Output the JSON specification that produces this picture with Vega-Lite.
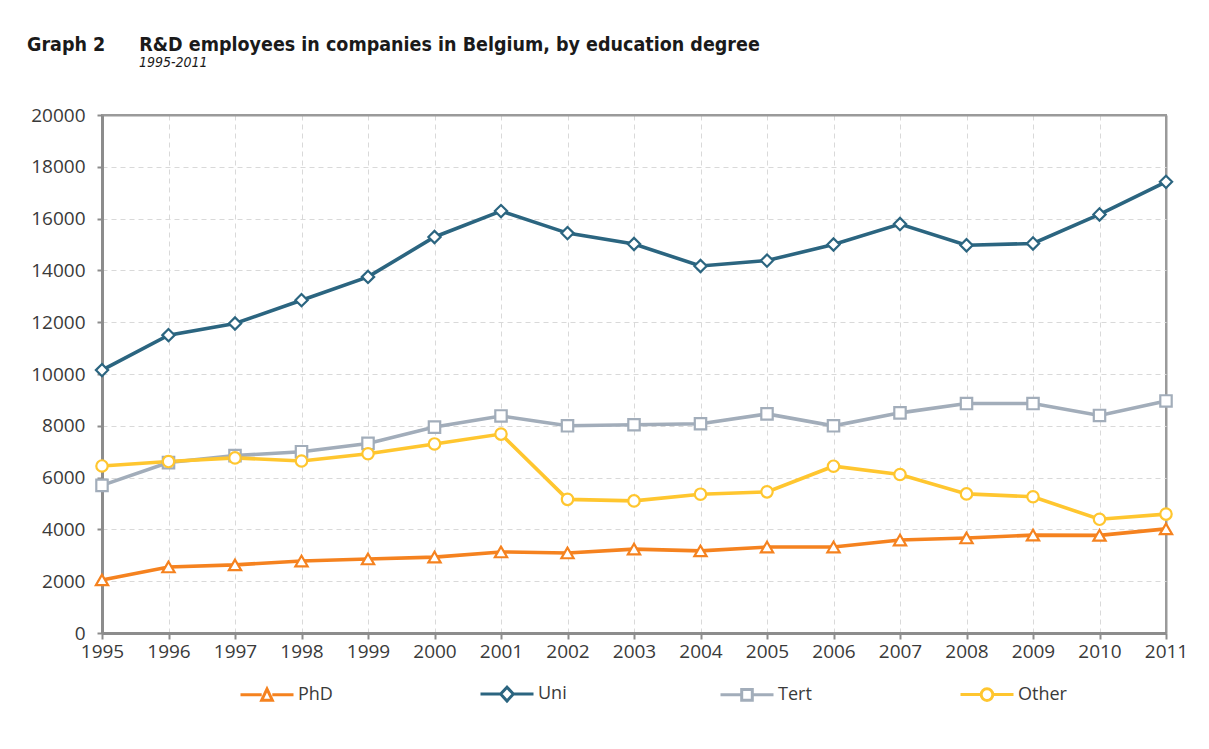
{
  "$schema": "https://vega.github.io/schema/vega-lite/v6.json",
  "width": 1064,
  "height": 518,
  "autosize": {"type": "none"},
  "padding": {"left": 102, "top": 115, "right": 43, "bottom": 116},
  "background": "white",
  "title": {
    "text": "Graph 2\u00a0\u00a0\u00a0\u00a0\u00a0\u2009R&D employees in companies in Belgium, by education degree",
    "subtitle": "\u200b\u00a0\u00a0\u00a0\u00a0\u00a0\u00a0\u00a0\u00a0\u00a0\u00a0\u00a0\u00a0\u00a0\u00a0\u00a0\u00a0\u00a0\u00a0\u00a0\u00a0\u00a0\u00a0\u00a0\u00a0\u00a0\u00a0\u00a0\u00a01995-2011",
    "anchor": "start",
    "frame": "group",
    "dx": -75,
    "offset": 35,
    "font": "DejaVu Sans Condensed",
    "fontSize": 19.5,
    "fontWeight": "bold",
    "color": "#1a1a1a",
    "subtitleFont": "DejaVu Sans Condensed",
    "subtitleFontSize": 14,
    "subtitleFontStyle": "italic",
    "subtitleColor": "#1a1a1a",
    "subtitlePadding": 1
  },
  "data": {
    "values": [
      {"year": 1995, "series": "PhD", "value": 2050},
      {"year": 1996, "series": "PhD", "value": 2550},
      {"year": 1997, "series": "PhD", "value": 2630},
      {"year": 1998, "series": "PhD", "value": 2780},
      {"year": 1999, "series": "PhD", "value": 2860},
      {"year": 2000, "series": "PhD", "value": 2930},
      {"year": 2001, "series": "PhD", "value": 3130},
      {"year": 2002, "series": "PhD", "value": 3090},
      {"year": 2003, "series": "PhD", "value": 3240},
      {"year": 2004, "series": "PhD", "value": 3170},
      {"year": 2005, "series": "PhD", "value": 3320},
      {"year": 2006, "series": "PhD", "value": 3320},
      {"year": 2007, "series": "PhD", "value": 3590},
      {"year": 2008, "series": "PhD", "value": 3670},
      {"year": 2009, "series": "PhD", "value": 3780},
      {"year": 2010, "series": "PhD", "value": 3770},
      {"year": 2011, "series": "PhD", "value": 4020},
      {"year": 1995, "series": "Uni", "value": 10150},
      {"year": 1996, "series": "Uni", "value": 11500},
      {"year": 1997, "series": "Uni", "value": 11950},
      {"year": 1998, "series": "Uni", "value": 12850},
      {"year": 1999, "series": "Uni", "value": 13750},
      {"year": 2000, "series": "Uni", "value": 15290},
      {"year": 2001, "series": "Uni", "value": 16290},
      {"year": 2002, "series": "Uni", "value": 15440},
      {"year": 2003, "series": "Uni", "value": 15020},
      {"year": 2004, "series": "Uni", "value": 14170},
      {"year": 2005, "series": "Uni", "value": 14380},
      {"year": 2006, "series": "Uni", "value": 15000},
      {"year": 2007, "series": "Uni", "value": 15790},
      {"year": 2008, "series": "Uni", "value": 14970},
      {"year": 2009, "series": "Uni", "value": 15040},
      {"year": 2010, "series": "Uni", "value": 16160},
      {"year": 2011, "series": "Uni", "value": 17420},
      {"year": 1995, "series": "Tert", "value": 5700},
      {"year": 1996, "series": "Tert", "value": 6580},
      {"year": 1997, "series": "Tert", "value": 6850},
      {"year": 1998, "series": "Tert", "value": 7000},
      {"year": 1999, "series": "Tert", "value": 7320},
      {"year": 2000, "series": "Tert", "value": 7950},
      {"year": 2001, "series": "Tert", "value": 8380},
      {"year": 2002, "series": "Tert", "value": 8000},
      {"year": 2003, "series": "Tert", "value": 8040},
      {"year": 2004, "series": "Tert", "value": 8080},
      {"year": 2005, "series": "Tert", "value": 8460},
      {"year": 2006, "series": "Tert", "value": 8000},
      {"year": 2007, "series": "Tert", "value": 8500},
      {"year": 2008, "series": "Tert", "value": 8860},
      {"year": 2009, "series": "Tert", "value": 8860},
      {"year": 2010, "series": "Tert", "value": 8400},
      {"year": 2011, "series": "Tert", "value": 8960},
      {"year": 1995, "series": "Other", "value": 6450},
      {"year": 1996, "series": "Other", "value": 6620},
      {"year": 1997, "series": "Other", "value": 6760},
      {"year": 1998, "series": "Other", "value": 6640},
      {"year": 1999, "series": "Other", "value": 6920},
      {"year": 2000, "series": "Other", "value": 7300},
      {"year": 2001, "series": "Other", "value": 7680},
      {"year": 2002, "series": "Other", "value": 5160},
      {"year": 2003, "series": "Other", "value": 5100},
      {"year": 2004, "series": "Other", "value": 5360},
      {"year": 2005, "series": "Other", "value": 5450},
      {"year": 2006, "series": "Other", "value": 6440},
      {"year": 2007, "series": "Other", "value": 6120},
      {"year": 2008, "series": "Other", "value": 5370},
      {"year": 2009, "series": "Other", "value": 5260},
      {"year": 2010, "series": "Other", "value": 4390},
      {"year": 2011, "series": "Other", "value": 4590}
    ]
  },
  "encoding": {
    "x": {
      "field": "year",
      "type": "quantitative",
      "scale": {"domain": [1995, 2011], "nice": false, "zero": false},
      "axis": {
        "title": null,
        "values": [1995, 1996, 1997, 1998, 1999, 2000, 2001, 2002, 2003, 2004, 2005, 2006, 2007, 2008, 2009, 2010, 2011],
        "format": "d",
        "labelFlush": false,
        "labelOverlap": false,
        "labelPadding": 3,
        "tickSize": 6,
        "gridColor": {"condition": {"test": "datum.value === 2011", "value": "#9a9a9a"}, "value": "#d9d9d9"},
        "gridDash": {"condition": {"test": "datum.value === 2011", "value": []}, "value": [5, 4]},
        "gridWidth": {"condition": {"test": "datum.value === 2011", "value": 2}, "value": 1}
      }
    },
    "y": {
      "field": "value",
      "type": "quantitative",
      "scale": {"domain": [0, 20000], "nice": false},
      "axis": {
        "title": null,
        "values": [0, 2000, 4000, 6000, 8000, 10000, 12000, 14000, 16000, 18000, 20000],
        "format": "d",
        "tickSize": 5,
        "labelPadding": 12,
        "gridColor": {"condition": {"test": "datum.value === 20000", "value": "#9a9a9a"}, "value": "#d9d9d9"},
        "gridDash": {"condition": {"test": "datum.value === 20000", "value": []}, "value": [5, 4]},
        "gridWidth": {"condition": {"test": "datum.value === 20000", "value": 2}, "value": 1}
      }
    },
    "color": {
      "field": "series",
      "type": "nominal",
      "scale": {
        "domain": ["PhD", "Uni", "Tert", "Other"],
        "range": ["#F5821F", "#2B6580", "#A2ADBA", "#FFC62F"]
      },
      "legend": null
    }
  },
  "layer": [
    {
      "mark": {"type": "line", "strokeWidth": 3.6},
      "encoding": {
        "color": {
          "field": "series",
          "type": "nominal",
          "legend": {
            "orient": "none",
            "legendX": 137,
            "legendY": 551,
            "direction": "horizontal",
            "columns": 4,
            "gridAlign": "all",
            "title": null,
            "symbolSize": 2809,
            "symbolStrokeWidth": 3,
            "symbolFillColor": "white",
            "symbolOpacity": 1,
            "labelFont": "Open Sans",
            "labelFontSize": 18,
            "labelColor": "#3a3a3a",
            "labelOffset": 3,
            "columnPadding": 127,
            "encode": {
              "symbols": {
                "update": {
                  "shape": {
                    "signal": "datum.value === 'PhD' ? 'M-1,0H-0.2M0.2,0H1M-0.2,0.2L0,-0.22L0.2,0.2Z' : datum.value === 'Uni' ? 'M-1,0H-0.24M0.24,0H1M-0.24,0L0,-0.26L0.24,0L0,0.26Z' : datum.value === 'Tert' ? 'M-1,0H-0.2M0.2,0H1M-0.2,-0.2H0.2V0.2H-0.2Z' : 'M-1,0H-0.22M0.22,0H1M-0.22,0A0.22,0.22,0,1,0,0.22,0A0.22,0.22,0,1,0,-0.22,0Z'"
                  },
                  "fill": {"value": "white"},
                  "fillOpacity": {"value": 1}
                }
              }
            }
          }
        }
      }
    },
    {
      "transform": [{"filter": "datum.series === 'PhD'"}],
      "mark": {"type": "point", "shape": "triangle-up", "filled": false, "fill": "white", "fillOpacity": 1, "opacity": 1, "strokeWidth": 2.2, "size": 150}
    },
    {
      "transform": [{"filter": "datum.series === 'Uni'"}],
      "mark": {"type": "point", "shape": "diamond", "filled": false, "fill": "white", "fillOpacity": 1, "opacity": 1, "strokeWidth": 2.2, "size": 150}
    },
    {
      "transform": [{"filter": "datum.series === 'Tert'"}],
      "mark": {"type": "point", "shape": "square", "filled": false, "fill": "white", "fillOpacity": 1, "opacity": 1, "strokeWidth": 2.2, "size": 130}
    },
    {
      "transform": [{"filter": "datum.series === 'Other'"}],
      "mark": {"type": "point", "shape": "circle", "filled": false, "fill": "white", "fillOpacity": 1, "opacity": 1, "strokeWidth": 2.2, "size": 130}
    }
  ],
  "config": {
    "view": {"stroke": "#9a9a9a", "strokeWidth": 2},
    "axis": {
      "labelFont": "Open Sans",
      "labelFontSize": 19,
      "labelColor": "#3a3a3a",
      "domainColor": "#8c8c8c",
      "domainWidth": 3,
      "tickColor": "#8c8c8c",
      "tickWidth": 2,
      "gridColor": "#d9d9d9",
      "gridDash": [5, 4],
      "gridWidth": 1
    }
  }
}
